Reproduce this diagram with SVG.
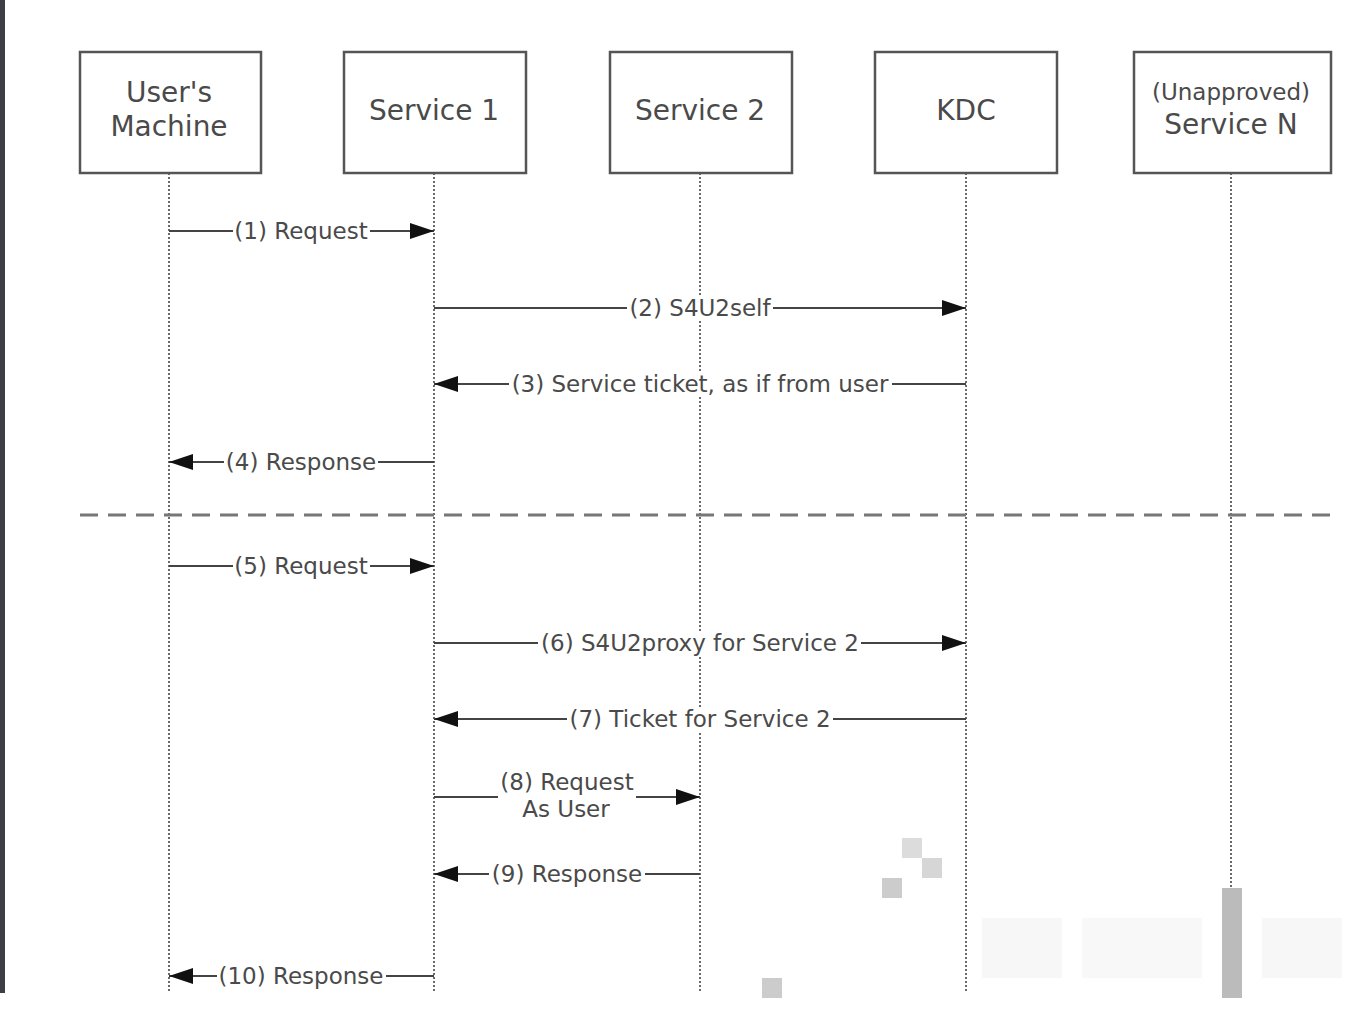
<svg xmlns="http://www.w3.org/2000/svg" width="1370" height="1010" viewBox="0 0 1370 1010">
<style>
.box{fill:#fff;stroke:#555;stroke-width:2.5}
.bt{font-family:"DejaVu Sans",Verdana,sans-serif;font-size:28px;fill:#4a4a4a;text-anchor:middle}
.bs{font-size:23px}
.life{stroke:#6a6a6a;stroke-width:2;stroke-dasharray:2 2}
.msg{stroke:#444;stroke-width:2;fill:none}
.bg{fill:#fff}
.lbl{font-family:"DejaVu Sans",Verdana,sans-serif;font-size:23px;fill:#4a4a4a;text-anchor:middle}
.sep{stroke:#777;stroke-width:3;stroke-dasharray:18 10}
</style>
<defs>
<marker id="ah" viewBox="0 0 24 16" refX="24" refY="8" markerWidth="24" markerHeight="16" markerUnits="userSpaceOnUse" orient="auto">
<path d="M0,0 L24,8 L0,16 Z" fill="#111"/>
</marker>
</defs>
<rect width="1370" height="1010" fill="#fff"/>
<rect x="0" y="0" width="5" height="993" fill="#3b3e44"/>
<g id="lifelines">
<line class="life" x1="169" y1="173" x2="169" y2="993"/>
<line class="life" x1="434" y1="173" x2="434" y2="993"/>
<line class="life" x1="700" y1="173" x2="700" y2="993"/>
<line class="life" x1="966" y1="173" x2="966" y2="993"/>
<line class="life" x1="1231" y1="173" x2="1231" y2="890"/>
</g>
<g id="users-machine"><rect class="box" x="80" y="52" width="181" height="121"/><text class="bt" x="169" y="102">User's</text><text class="bt" x="169" y="136">Machine</text></g>
<g id="service-1"><rect class="box" x="344" y="52" width="182" height="121"/><text class="bt" x="434" y="120">Service 1</text></g>
<g id="service-2"><rect class="box" x="610" y="52" width="182" height="121"/><text class="bt" x="700" y="120">Service 2</text></g>
<g id="kdc"><rect class="box" x="875" y="52" width="182" height="121"/><text class="bt" x="966" y="120">KDC</text></g>
<g id="service-n"><rect class="box" x="1134" y="52" width="197" height="121"/><text class="bt bs" x="1231" y="100">(Unapproved)</text><text class="bt" x="1231" y="134">Service N</text></g>
<g id="connectors">
<line class="msg" x1="169" y1="231" x2="434" y2="231" marker-end="url(#ah)"/>
<line class="msg" x1="434" y1="308" x2="966" y2="308" marker-end="url(#ah)"/>
<line class="msg" x1="966" y1="384" x2="434" y2="384" marker-end="url(#ah)"/>
<line class="msg" x1="434" y1="462" x2="169" y2="462" marker-end="url(#ah)"/>
<line class="sep" x1="80" y1="515" x2="1331" y2="515"/>
<line class="msg" x1="169" y1="566" x2="434" y2="566" marker-end="url(#ah)"/>
<line class="msg" x1="434" y1="643" x2="966" y2="643" marker-end="url(#ah)"/>
<line class="msg" x1="966" y1="719" x2="434" y2="719" marker-end="url(#ah)"/>
<line class="msg" x1="434" y1="797" x2="498" y2="797"/>
<line class="msg" x1="636" y1="797" x2="700" y2="797" marker-end="url(#ah)"/>
<line class="msg" x1="700" y1="874" x2="434" y2="874" marker-end="url(#ah)"/>
<line class="msg" x1="434" y1="976" x2="169" y2="976" marker-end="url(#ah)"/>
</g>
<g id="labels">
<rect class="bg" x="233" y="219" width="137" height="25"/>
<text class="lbl" x="301" y="239">(1) Request</text>
<rect class="bg" x="627" y="296" width="146" height="25"/>
<text class="lbl" x="700" y="316">(2) S4U2self</text>
<rect class="bg" x="509" y="372" width="383" height="25"/>
<text class="lbl" x="700" y="392">(3) Service ticket, as if from user</text>
<rect class="bg" x="224" y="450" width="154" height="25"/>
<text class="lbl" x="301" y="470">(4) Response</text>
<rect class="bg" x="233" y="554" width="137" height="25"/>
<text class="lbl" x="301" y="574">(5) Request</text>
<rect class="bg" x="538" y="631" width="323" height="25"/>
<text class="lbl" x="700" y="651">(6) S4U2proxy for Service 2</text>
<rect class="bg" x="567" y="707" width="266" height="25"/>
<text class="lbl" x="700" y="727">(7) Ticket for Service 2</text>
<rect class="bg" x="499" y="769" width="136" height="24"/>
<rect class="bg" x="520" y="795" width="92" height="25"/>
<text class="lbl" x="567" y="790">(8) Request</text>
<text class="lbl" x="566" y="817">As User</text>
<rect class="bg" x="489" y="862" width="156" height="25"/>
<text class="lbl" x="567" y="882">(9) Response</text>
<rect class="bg" x="217" y="964" width="169" height="25"/>
<text class="lbl" x="301" y="984">(10) Response</text>
</g>
<g id="watermark">
<rect x="982" y="918" width="80" height="60" fill="#f7f7f7"/>
<rect x="1082" y="918" width="120" height="60" fill="#f8f8f8"/>
<rect x="1262" y="918" width="80" height="60" fill="#f7f7f7"/>
<rect x="902" y="838" width="20" height="20" fill="#dcdcdc"/>
<rect x="922" y="858" width="20" height="20" fill="#d6d6d6"/>
<rect x="882" y="878" width="20" height="20" fill="#cccccc"/>
<rect x="762" y="978" width="20" height="20" fill="#cccccc"/>
<rect x="1222" y="888" width="20" height="110" fill="#bbbbbb"/>
</g>
</svg>
